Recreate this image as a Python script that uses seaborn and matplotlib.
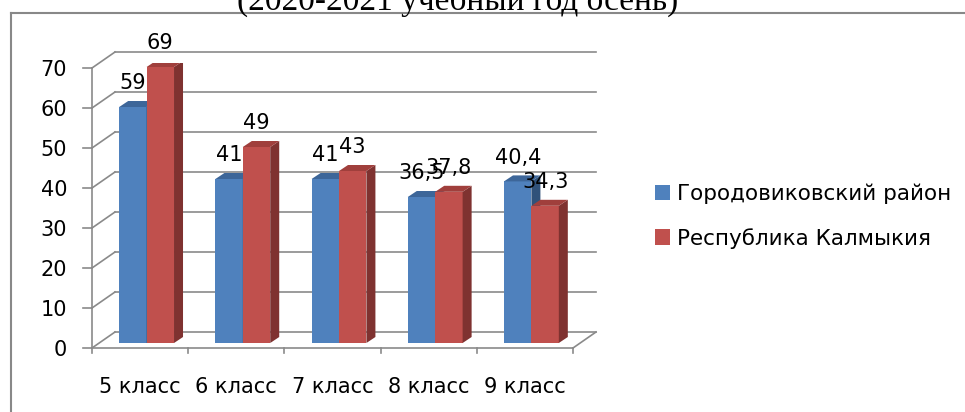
import numpy as np
import pandas as pd
import seaborn as sns
import matplotlib.pyplot as plt
from matplotlib.patches import Polygon
from matplotlib.lines import Line2D
from matplotlib.transforms import ScaledTranslation

# data
classes = ["5 класс", "6 класс", "7 класс", "8 класс", "9 класс"]
series = ["Городовиковский район", "Республика Калмыкия"]
district = [59, 41, 41, 36.5, 40.4]
republic = [69, 49, 43, 37.8, 34.3]
yticks = [0, 10, 20, 30, 40, 50, 60, 70]
title = "(2020-2021 учебный год осень)"

front_colors = ["#4f81bd", "#c0504d"]
top_colors = ["#3d6699", "#a03f3c"]
side_colors = ["#30527a", "#7f3230"]
grid_color = "#8a8a8a"

df = pd.DataFrame({
    "класс": classes * 2,
    "значение": district + republic,
    "серия": [series[0]] * len(classes) + [series[1]] * len(classes),
})

plt.rcParams["font.family"] = ["DejaVu Sans"]
plt.rcParams["font.size"] = 15

W, H = 965, 412
fig = plt.figure(figsize=(W / 100, H / 100), dpi=100)
# axes = plane where the bar fronts sit
ax = fig.add_axes([98.5 / W, (H - 343) / H, 481 / W, 280 / H])

sns.barplot(data=df, x="класс", y="значение", hue="серия", palette=front_colors,
            saturation=1, width=0.57, errorbar=None, ax=ax)
ax.set_xlim(-0.5, len(classes) - 0.5)
ax.set_ylim(0, 70)
ax.set_xlabel("")
ax.set_ylabel("")
for s in ax.spines.values():
    s.set_visible(False)
ax.patch.set_visible(False)

# pixels -> data units
p0 = ax.transData.transform((0, 0))
p1 = ax.transData.transform((1, 1))
sx, sy = p1 - p0


def off(x, y, dx, dy):
    return x + dx / sx, y + dy / sy


FR = (-6.5, -5)   # front plane (axis lines)
BK = (16.5, 11)   # back wall
D = (9, 6)        # bar depth
xl, xr = -0.5, len(classes) - 0.5
lk = dict(color=grid_color, lw=1.2, clip_on=False, zorder=0)

for v in yticks:
    xb0, yb = off(xl, v, *BK)
    xb1, _ = off(xr, v, *BK)
    ax.plot([xb0, xb1], [yb, yb], **lk)
    xf, yf = off(xl, v, *FR)
    ax.plot([xf, xb0], [yf, yb], **lk)
    ax.plot([xf - 9 / sx, xf], [yf, yf], **lk)

xf, yf0 = off(xl, 0, *FR)
_, yf1 = off(xl, 70, *FR)
ax.plot([xf, xf], [yf0, yf1], **lk)
xf1, _ = off(xr, 0, *FR)
ax.plot([xf, xf1], [yf0, yf0], **lk)
xb1, yb0 = off(xr, 0, *BK)
ax.plot([xf1, xb1], [yf0, yb0], **lk)
for k in range(len(classes) + 1):
    xt, _ = off(k - 0.5, 0, *FR)
    ax.plot([xt, xt], [yf0, yf0 - 5 / sy], **lk)

# 3d faces of the bars
dx, dy = D[0] / sx, D[1] / sy
values = [district, republic]
for i, cont in enumerate(ax.containers):
    for bar in cont:
        bar.set_zorder(3 + 2 * i)
        x0 = bar.get_x()
        x1 = x0 + bar.get_width()
        h = bar.get_height()
        ax.add_patch(Polygon([(x1, 0), (x1 + dx, dy), (x1 + dx, h + dy), (x1, h)],
                             closed=True, fc=side_colors[i], ec="none", zorder=4 + 2 * i))
        ax.add_patch(Polygon([(x0, h), (x1, h), (x1 + dx, h + dy), (x0 + dx, h + dy)],
                             closed=True, fc=top_colors[i], ec="none", zorder=4 + 2 * i))
    labels = [f"{v:g}".replace(".", ",") for v in values[i]]
    for t in ax.bar_label(cont, labels=labels, padding=10, fontsize=15):
        t.set_zorder(10)

ax.set_yticks(yticks)
ax.tick_params(axis="both", length=0, labelsize=15, colors="black")
ax.tick_params(axis="y", pad=18)
ax.tick_params(axis="x", pad=21)
shift = ScaledTranslation(FR[0] / 100, FR[1] / 100, fig.dpi_scale_trans)
for lab in ax.get_yticklabels() + ax.get_xticklabels():
    lab.set_transform(lab.get_transform() + shift)

sns.move_legend(ax, "center left", bbox_to_anchor=(655 / W, 1 - 216 / H),
                bbox_transform=fig.transFigure, frameon=False, title=None,
                handlelength=0.7, handleheight=0.7, handletextpad=0.33,
                labelspacing=1.1, borderpad=0, borderaxespad=0, fontsize=15.5)

fig.text(457.5 / W, 1 - 9.5 / H, title, ha="center", va="baseline",
         family="Liberation Serif", fontsize=24)

# outer frame (top and left edges visible)
fig.add_artist(Line2D([11 / W, 1], [1 - 13 / H, 1 - 13 / H], transform=fig.transFigure,
                      color="#888888", lw=1.5))
fig.add_artist(Line2D([11 / W, 11 / W], [0, 1 - 13 / H], transform=fig.transFigure,
                      color="#888888", lw=1.5))

fig.savefig("out.png", dpi=100)
